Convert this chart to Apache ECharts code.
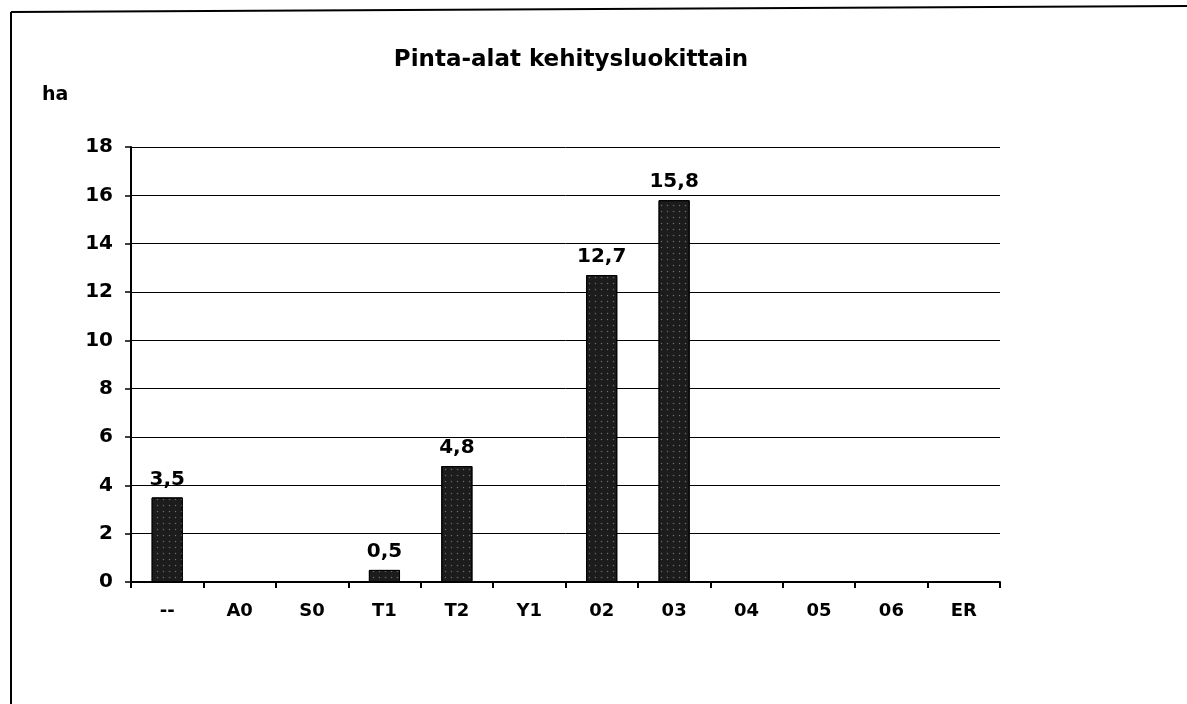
<!DOCTYPE html>
<html>
<head>
<meta charset="utf-8">
<title>Pinta-alat kehitysluokittain</title>
<script src="https://cdn.jsdelivr.net/npm/echarts@6/dist/echarts.min.js"></script>
<style>
  html, body { margin: 0; padding: 0; background: #fff; }
  #main { width: 1187px; height: 704px; }
</style>
</head>
<body>
<div id="main"></div>
<script>
// kehitysluokat ja pinta-alat (ha)
var categories = ['--', 'A0', 'S0', 'T1', 'T2', 'Y1', '02', '03', '04', '05', '06', 'ER']
var areas = [3.5, 0, 0, 0.5, 4.8, 0, 12.7, 15.8, 0, 0, 0, 0]
var yTicks = { min: 0, max: 18, interval: 2 }

var font = 'DejaVu Sans'
var myChart = echarts.init(document.getElementById('main'))

var option = {
  backgroundColor: '#fff',
  animation: false,
  title: {
    text: 'Pinta-alat kehitysluokittain',
    left: 566,
    textAlign: 'center',
    top: 44,
    textStyle: { fontFamily: font, fontWeight: 'bold', fontSize: 23, color: '#000' }
  },
  // kehys vasemmalla ja ylhäällä
  graphic: [
    { type: 'line', shape: { x1: 11, y1: 12, x2: 1187, y2: 6 }, style: { stroke: '#000', lineWidth: 2 } },
    { type: 'line', shape: { x1: 11, y1: 12, x2: 11, y2: 704 }, style: { stroke: '#000', lineWidth: 2 } }
  ],
  grid: { left: 131, right: 187, top: 147, bottom: 122 },
  xAxis: {
    type: 'category',
    data: categories,
    axisLine: { lineStyle: { color: '#000', width: 2 } },
    axisTick: { show: true, length: 6, lineStyle: { color: '#000', width: 2 } },
    axisLabel: { fontFamily: font, fontWeight: 'bold', fontSize: 18, color: '#000', margin: 20 }
  },
  yAxis: {
    type: 'value',
    min: yTicks.min,
    max: yTicks.max,
    interval: yTicks.interval,
    name: 'ha',
    nameLocation: 'end',
    nameGap: 0,
    nameTextStyle: { fontFamily: font, fontWeight: 'bold', fontSize: 19, color: '#000', align: 'left', padding: [0, 0, 42, -89] },
    axisLine: { show: true, lineStyle: { color: '#000', width: 2 } },
    axisTick: { show: true, length: 6, lineStyle: { color: '#000', width: 1.5 } },
    axisLabel: { fontFamily: font, fontWeight: 'bold', fontSize: 20, color: '#000', margin: 18 },
    splitLine: { show: true, lineStyle: { color: '#000', width: 1 } }
  },
  series: [
    {
      type: 'bar',
      data: areas.map(function (v) { return v === 0 ? null : v }),
      barWidth: '43%',
      itemStyle: {
        color: '#1c1c1c',
        borderColor: '#000',
        borderWidth: 1,
        decal: { symbol: 'circle', symbolSize: 0.5, color: 'rgba(255,255,255,0.35)', dashArrayX: [3, 3], dashArrayY: [3, 3] }
      },
      label: {
        show: true,
        position: 'top',
        distance: 8,
        fontFamily: font,
        fontWeight: 'bold',
        fontSize: 20,
        color: '#000',
        formatter: function (p) { return String(p.value).replace('.', ',') }
      }
    }
  ]
}

myChart.setOption(option)
</script>
</body>
</html>
